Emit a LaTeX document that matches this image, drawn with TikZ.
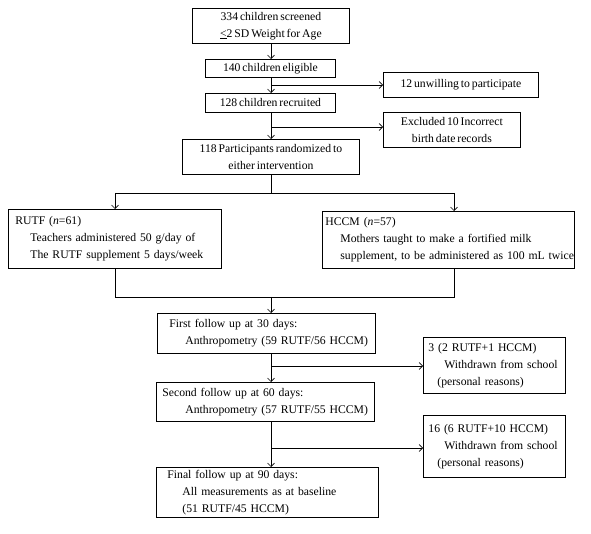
\documentclass[tikz,border=0pt]{standalone}
\usepackage{fontspec}
\setmainfont{Liberation Serif}[WordSpace=0.65]
\usetikzlibrary{arrows.meta}
\newcommand\oneline[1]{\mbox{#1}}
\begin{document}
\begin{tikzpicture}[x=1pt,y=-1pt,
  box/.style={draw, line width=0.8pt, rectangle, anchor=north west, inner sep=0pt,
    font=\fontsize{11.7}{16.8}\selectfont, align=center},
  lbox/.style={box, align=left},
  line/.style={line width=0.8pt},
  arr/.style={line width=0.8pt, -{Straight Barb[length=3.5pt,width=7pt,line width=0.6pt]}}]
\useasboundingbox (0,0) rectangle (591,534);
% main column
\node[box, minimum width=157pt, minimum height=35pt] (b1) at (192,8)
  {334 children screened\\\underline{<}2 SD Weight for Age};
\node[box, minimum width=130pt, minimum height=18pt] (b2) at (205,59) {140 children eligible};
\node[box, minimum width=130pt, minimum height=19pt] (b3) at (205,93) {128 children recruited};
\node[box, minimum width=177pt, minimum height=35pt] (b4) at (182,139)
  {118 Participants randomized to\\either intervention};
% side boxes
\node[box, minimum width=155pt, minimum height=25pt] (u) at (383,72) {12 unwilling to participate};
\node[box, minimum width=137pt, minimum height=35pt] (ex) at (383,112)
  {Excluded 10 Incorrect\\birth date records};
% arms
\node[lbox, minimum width=213pt, minimum height=59pt, text width=199pt, inner xsep=7pt] (rutf) at (8,209)
  {\oneline{RUTF (\textit{n}=61)}\\\oneline{\hspace*{15pt}Teachers administered 50 g/day of}\\\oneline{\hspace*{15pt}The RUTF supplement 5 days/week}};
\node[lbox, minimum width=252pt, minimum height=57pt, text width=246pt, inner xsep=3pt] (hccm) at (322,211)
  {\oneline{HCCM (\textit{n}=57)}\\\oneline{\hspace*{15pt}Mothers taught to make a fortified milk}\\\oneline{\hspace*{15pt}supplement, to be administered as 100 mL twice}};
% follow ups
\node[lbox, minimum width=218pt, minimum height=40pt, text width=206pt, inner xsep=6pt] (f1) at (157,313)
  {\oneline{\hspace*{6pt}First follow up at 30 days:}\\\oneline{\hspace*{22pt}Anthropometry (59 RUTF/56 HCCM)}};
\node[lbox, minimum width=218pt, minimum height=39pt, text width=206pt, inner xsep=6pt] (f2) at (156,382)
  {\oneline{Second follow up at 60 days:}\\\oneline{\hspace*{23pt}Anthropometry (57 RUTF/55 HCCM)}};
\node[lbox, minimum width=222pt, minimum height=50pt, text width=208pt, inner xsep=7pt] (f3) at (156,467)
  {\oneline{\hspace*{4pt}Final follow up at 90 days:}\\\oneline{\hspace*{19pt}All measurements as at baseline}\\\oneline{\hspace*{19pt}(51 RUTF/45 HCCM)}};
\node[lbox, minimum width=142pt, minimum height=56pt, text width=132pt, inner xsep=5pt] (w1) at (423,337)
  {\oneline{3 (2 RUTF+1 HCCM)}\\\oneline{\hspace*{16pt}Withdrawn from school}\\\oneline{\hspace*{9pt}(personal reasons)}};
\node[lbox, minimum width=142pt, minimum height=62pt, text width=132pt, inner xsep=5pt] (w2) at (423,415)
  {\oneline{16 (6 RUTF+10 HCCM)}\\\oneline{\hspace*{16pt}Withdrawn from school}\\\oneline{\hspace*{9pt}(personal reasons)}};
% junction coordinates
\coordinate (j1) at (271,85);
\coordinate (j2) at (271,127);
\coordinate (s) at (271,193);
\coordinate (sL) at (115,193);
\coordinate (sR) at (454,193);
\coordinate (m) at (271,297);
\coordinate (mL) at (115,297);
\coordinate (mR) at (454,297);
\coordinate (j3) at (271,366);
\coordinate (j4) at (271,448);
% connectors
\draw[arr] (b1.south -| j1) -- (b2.north -| j1);
\draw[arr] (b2.south -| j1) -- (b3.north -| j1);
\draw[arr] (j1) -- (j1 -| u.west);
\draw[arr] (b3.south -| j2) -- (b4.north -| j2);
\draw[arr] (j2) -- (j2 -| ex.west);
\draw[line] (b4.south -| s) -- (s);
\draw[line] (sL) -- (sR);
\draw[arr] (sL) -- (sL |- rutf.north);
\draw[arr] (sR) -- (sR |- hccm.north);
\draw[line] (mL |- rutf.south) -- (mL) -- (mR) -- (mR |- hccm.south);
\draw[arr] (m) -- (m |- f1.north);
\draw[arr] (f1.south -| j3) -- (f2.north -| j3);
\draw[arr] (j3) -- (j3 -| w1.west);
\draw[arr] (f2.south -| j4) -- (f3.north -| j4);
\draw[arr] (j4) -- (j4 -| w2.west);
\end{tikzpicture}
\end{document}
